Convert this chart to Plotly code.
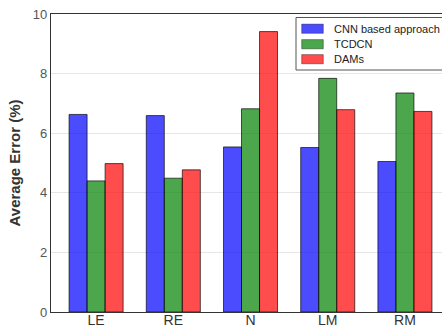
import plotly.graph_objects as go

categories = ["LE", "RE", "N", "LM", "RM"]
series_names = ["CNN based approach", "TCDCN", "DAMs"]
cnn_values = [6.63, 6.59, 5.54, 5.52, 5.05]
tcdcn_values = [4.40, 4.49, 6.82, 7.84, 7.35]
dams_values = [4.98, 4.77, 9.41, 6.79, 6.73]
y_ticks = [0, 2, 4, 6, 8, 10]

colors = ["rgba(0,0,255,0.7)", "rgba(0,128,0,0.7)", "rgba(255,0,0,0.7)"]

W, H = 442, 328
ML, MR, MT, MB = 51, 0, 14, 16
PW, PH = W - ML - MR, H - MT - MB


def px_x(px):
    return (px - ML) / PW


def px_y(py):
    return (H - MB - py) / PH


fig = go.Figure()
for name, vals, col in zip(series_names, [cnn_values, tcdcn_values, dams_values], colors):
    fig.add_trace(go.Bar(
        x=categories, y=vals, name=name,
        marker=dict(color=col, line=dict(color="rgba(0,0,0,0.65)", width=1)),
    ))

# manual legend (matplotlib-style box)
shapes = [dict(type="rect", xref="paper", yref="paper",
               x0=px_x(296), x1=px_x(470), y0=px_y(70), y1=px_y(17.5),
               line=dict(color="#555", width=1), fillcolor="white", layer="above")]
annotations = []
row_centers = [28.7, 44.2, 59.2]
for name, col, cy in zip(series_names, colors, row_centers):
    shapes.append(dict(type="rect", xref="paper", yref="paper",
                       x0=px_x(301.7), x1=px_x(323.3), y0=px_y(cy + 4.6), y1=px_y(cy - 4.6),
                       line=dict(color="rgba(0,0,0,0.45)", width=0.8), fillcolor=col, layer="above"))
    annotations.append(dict(xref="paper", yref="paper", x=px_x(331.5), y=px_y(cy),
                            xanchor="left", yanchor="middle", text=name, showarrow=False,
                            font=dict(size=11, color="#222")))

fig.update_layout(
    width=W, height=H,
    margin=dict(l=ML, r=MR, t=MT, b=MB, autoexpand=False),
    paper_bgcolor="white", plot_bgcolor="white",
    font=dict(family="Liberation Sans, Arial, sans-serif", color="#333"),
    barmode="group", bargap=0.3, bargroupgap=0,
    showlegend=False,
    shapes=shapes, annotations=annotations,
)
fig.update_xaxes(
    range=[-0.584, 4.48],
    showline=True, linecolor="#333", linewidth=1.2, mirror=True,
    showgrid=False, ticks="", ticklen=0,
    tickfont=dict(size=14, color="#333"),
    ticklabelstandoff=-5,
)
fig.update_yaxes(
    range=[0, 10], tickvals=y_ticks,
    showline=True, linecolor="#333", linewidth=1.2,
    showgrid=True, gridcolor="#e6e6e6", gridwidth=1,
    zeroline=False, ticks="",
    tickfont=dict(size=13, color="#555"),
    title=dict(text="<b>Average Error (%)</b>", font=dict(size=15, color="#333"), standoff=8),
)

fig.write_html("out.html", config={"displayModeBar": False},
               post_script="document.body.style.margin='0';document.body.style.overflow='hidden';")
